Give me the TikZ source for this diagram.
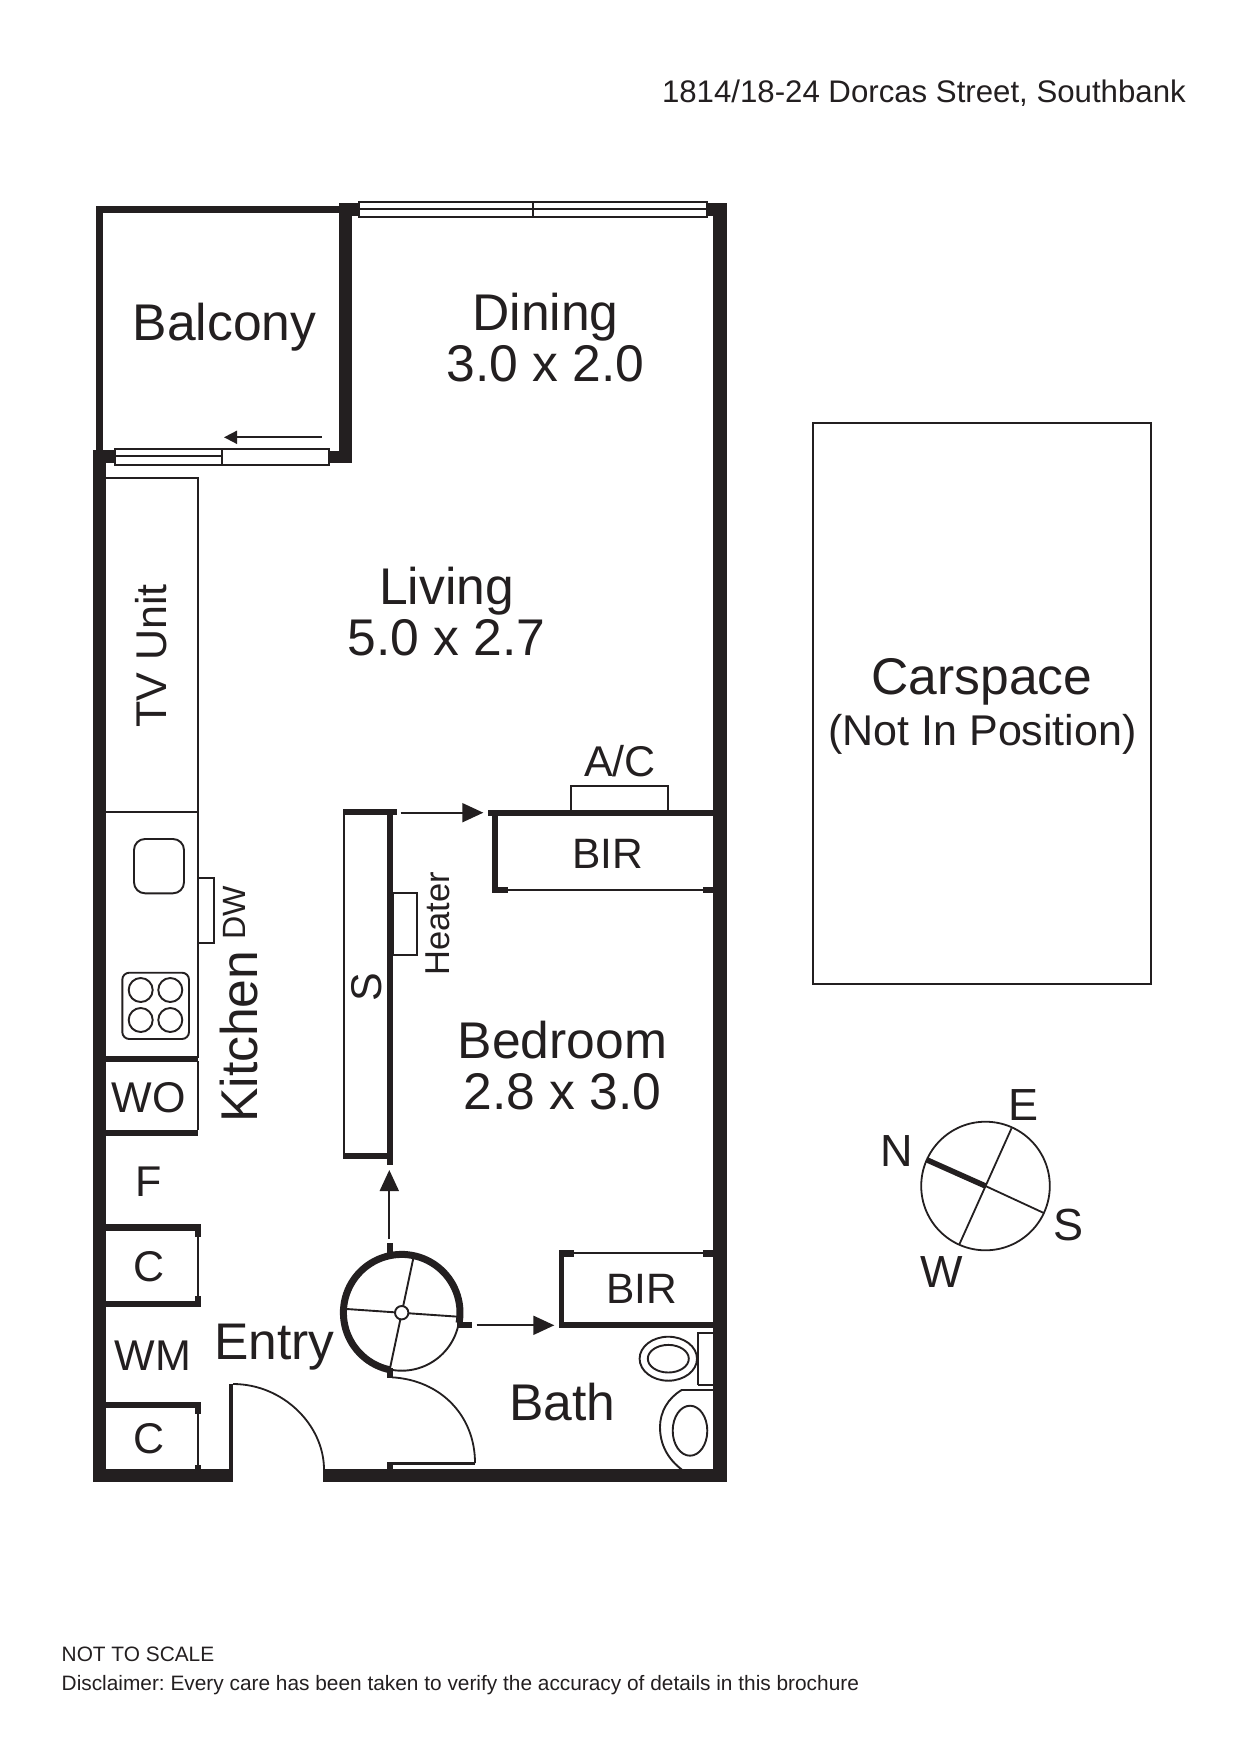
\documentclass[tikz,border=0pt]{standalone}
\usepackage{fontspec}
\setmainfont{Liberation Sans}
\usetikzlibrary{arrows.meta}
\definecolor{ink}{HTML}{231F20}
\newcommand{\fs}[1]{\fontsize{#1}{#1}\selectfont}
\tikzset{
  wall/.style={fill=ink,draw=none},
  thin line/.style={draw=ink,line width=1.9pt},
  fine/.style={draw=ink,line width=1.9pt},
  glass/.style={draw=ink,fill=white,line width=1.9pt},
  big/.style={anchor=base,inner sep=0pt,text=ink,font=\fs{51.6}},
  mid/.style={anchor=base,inner sep=0pt,text=ink,font=\fs{43}},
  small/.style={anchor=base west,inner sep=0pt,text=ink,font=\frenchspacing\fs{20.85}},
  move/.style={draw=ink,line width=1.9pt,-{Triangle[length=21pt,width=19pt]}},
}
\begin{document}
\begin{tikzpicture}[x=1pt,y=-1pt,line join=miter]
\path[use as bounding box,fill=white] (0,0) rectangle (1240,1752);

% balcony walls
\fill[wall] (96,206) rectangle (339,212.7);
\fill[wall] (96,206) rectangle (102.7,450);
\fill[wall] (338.7,203.3) rectangle (351.7,463.3);
\fill[wall] (338.7,203.3) rectangle (358.5,216);
\fill[wall] (328,450.7) rectangle (351.7,463.3);
% main shell
\fill[wall] (92.7,450) rectangle (106,1482.3);
\fill[wall] (92.7,450) rectangle (115,463);
\fill[wall] (713.3,203.3) rectangle (726.5,1482.3);
\fill[wall] (706,203.3) rectangle (726.5,216);
\fill[wall] (92.7,1469.3) rectangle (233.3,1482.3);
\fill[wall] (323.3,1469.3) rectangle (726.5,1482.3);
\fill[wall] (229.3,1384) rectangle (233.3,1470);

% windows
\draw[glass] (358.8,202.3) rectangle (706.7,216.7);
\draw[thin line] (358.8,209.4) -- (706.7,209.4);
\draw[thin line] (532.8,202.3) -- (532.8,216.7);
\draw[glass] (114.8,449) rectangle (328.7,465);
\draw[thin line] (114.8,456.3) -- (222,456.3);
\draw[thin line] (222,449) -- (222,465);
\draw[draw=ink,line width=1.7pt,-{Triangle[length=13pt,width=13pt]}] (321.7,437.3) -- (224,437.3);

% TV unit and kitchen bench
\draw[fine] (106,478.3) -- (197.8,478.3) -- (197.8,1058);
\draw[fine] (106,812.3) -- (197.8,812.3);
\draw[fine,rounded corners=11pt] (134,839) rectangle (184,893.3);
\draw[fine,rounded corners=7pt] (122.3,972.7) rectangle (189,1039);
\draw[fine] (140.7,990) circle[radius=12];
\draw[fine] (170.3,990) circle[radius=12];
\draw[fine] (140.7,1020) circle[radius=12];
\draw[fine] (170.3,1020) circle[radius=12];
\draw[fine] (198.3,877.7) rectangle (214.3,942.7);
\fill[wall] (106,1056) rectangle (198.3,1061.7);
\fill[wall] (106,1130) rectangle (198.3,1136);
\draw[fine] (197.8,1061) -- (197.8,1130);

% cupboards
\fill[wall] (106,1224.3) rectangle (201,1230.7);
\fill[wall] (195,1224.3) rectangle (201,1236.7);
\fill[wall] (106,1301) rectangle (201,1307);
\fill[wall] (195,1296) rectangle (201,1307);
\draw[thin line] (197.7,1236) -- (197.7,1296);
\fill[wall] (106,1402) rectangle (201,1408.3);
\fill[wall] (195,1402) rectangle (201,1414);
\fill[wall] (195,1464.7) rectangle (201,1470);
\draw[thin line] (197.7,1414) -- (197.7,1465);

% bedroom robe wall
\fill[wall] (343.3,809.3) rectangle (396.7,815.3);
\fill[wall] (386.7,809.3) rectangle (392.7,1165);
\fill[wall] (343.3,1153.3) rectangle (386.7,1159.3);
\draw[draw=ink,line width=2pt] (344.3,812) -- (344.3,1156);
\draw[fine] (393,892.8) rectangle (417.3,955);

% upper BIR
\fill[wall] (487.5,809.5) rectangle (713.3,816.3);
\fill[wall] (492,809.5) rectangle (498,893.3);
\fill[wall] (492,886.7) rectangle (508.3,893.3);
\fill[wall] (703.3,886.7) rectangle (713.3,893.3);
\draw[thin line] (508,890) -- (704,890);
\draw[thin line] (571,810) -- (571,785.7) -- (668.3,785.7) -- (668.3,810);

% lower BIR
\fill[wall] (559.3,1250) rectangle (564.3,1328.3);
\fill[wall] (559.3,1322.3) rectangle (713.3,1328.3);
\fill[wall] (559.3,1250) rectangle (574,1256.7);
\fill[wall] (703.3,1250) rectangle (713.3,1256.7);
\draw[thin line] (574,1253.3) -- (704,1253.3);

% stair door circle
\draw[draw=ink,line width=7pt] plot[domain=-10:258.5,samples=70] ({401.7+58.3*cos(\x)},{1312.7-58.3*sin(\x)});
\draw[draw=ink,line width=1.9pt] plot[domain=-101.5:-10,samples=30] ({401.7+58*cos(\x)},{1312.7-58*sin(\x)});
\draw[fine] (413.3,1258.3) -- (390,1368.3);
\draw[fine] (346.7,1309) -- (458.3,1316.7);
\draw[fine,fill=white] (401.7,1312.7) circle[radius=6.7];
\fill[wall] (386.7,1242.7) rectangle (392.7,1253);
\fill[wall] (457.3,1322.3) rectangle (471.7,1328.3);
\fill[wall] (386.7,1368) rectangle (392.7,1378);

% doors
\draw[draw=ink,line width=1.8pt] (233,1384) .. controls (283,1384) and (324,1425) .. (324,1469.5);
\draw[draw=ink,line width=1.8pt] (392,1377.3) .. controls (440,1380) and (475,1415) .. (475,1463);
\fill[wall] (386.7,1461.7) rectangle (392.7,1470);
\fill[wall] (386.7,1461.7) rectangle (475,1465);

% bathroom fittings
\draw[fine] (698.3,1385) -- (698.3,1332.7) -- (713.3,1332.7);
\draw[fine] (698.3,1385) -- (713.3,1385);
\draw[fine] (668.3,1358.7) ellipse[x radius=28.7,y radius=22];
\draw[fine] (668.3,1358.7) ellipse[x radius=20.5,y radius=13.8];
\draw[fine] (713.3,1390) -- (681.7,1390) .. controls (668,1398) and (660,1412) .. (660,1427) .. controls (660,1445) and (668,1459) .. (681.7,1469.5);
\draw[fine] (690,1430.7) ellipse[x radius=17.3,y radius=25];

% movement arrows
\draw[move] (400.7,812.7) -- (483.3,812.7);
\draw[move] (389.3,1239) -- (389.3,1170);
\draw[move] (476.7,1325.3) -- (554.3,1325.3);

% carspace
\draw[draw=ink,line width=2pt] (812.6,423.4) rectangle (1150.6,984);

% compass
\draw[draw=ink,line width=1.8pt] (985.5,1186) circle[radius=64.3];
\draw[draw=ink,line width=1.8pt] (985.5,1186) -- (1043.2,1212.7);
\draw[draw=ink,line width=1.8pt] (1011.5,1128.3) -- (959.5,1244);
\draw[draw=ink,line width=5.5pt] (985.5,1186) -- (927.2,1160);

% labels
\node[anchor=base east,inner sep=0pt,text=ink,font=\fs{31.2}] (address) at (1186,103) {1814/18-24 Dorcas Street, Southbank};
\node[big] (balcony) at (224.5,340.7) {Balcony};
\node[big] (dining) at (545.5,330.3) {Dining};
\node[big] (diningsize) at (545.5,381) {3.0 x 2.0};
\node[big] (living) at (446.5,604.6) {Living};
\node[big] (livingsize) at (446.5,655) {5.0 x 2.7};
\node[big] (carspace) at (982,694) {Carspace};
\node[mid,font=\fs{43}] (position) at (982.5,745) {(Not In Position)};
\node[big] (bedroom) at (562.5,1058) {Bedroom};
\node[big] (bedroomsize) at (562.5,1109) {2.8 x 3.0};
\node[big] (bath) at (562.5,1420) {Bath};
\node[big,font=\fs{51.5}] (entry) at (274.5,1359) {Entry};
\node[mid] (acl) at (620,776.7) {A/C};
\node[mid,font=\fs{42.5}] (bir1) at (607.7,868.3) {BIR};
\node[mid,font=\fs{42.5}] (bir2) at (642,1303.3) {BIR};
\node[mid] (wo) at (148.5,1112) {WO};
\node[mid] (fridge) at (149,1196.7) {F};
\node[mid] (c1) at (149,1281.7) {C};
\node[mid] (wm) at (153,1370.7) {WM};
\node[mid] (c2) at (149,1453.3) {C};
\node[mid,font=\fs{43},rotate=90] (tv) at (166,656) {TV Unit};
\node[big,font=\fs{51.7},rotate=90] (kitchen) at (257,1036.7) {Kitchen};
\node[mid,font=\fs{32.2},rotate=90] (dw) at (245.7,913) {DW};
\node[mid,rotate=90] (s) at (381,987.5) {S};
\node[mid,font=\fs{34.5},rotate=90] (heater) at (449,924) {Heater};
\node[mid,font=\fs{45}] (north) at (897,1166.7) {N};
\node[mid,font=\fs{45}] (east) at (1023.5,1120) {E};
\node[mid,font=\fs{45}] (south) at (1068.2,1240) {S};
\node[mid,font=\fs{45}] (west) at (942.2,1287.7) {W};
\node[small] (scale) at (61.5,1661) {NOT TO SCALE};
\node[small] (disclaimer) at (61.5,1690) {Disclaimer: Every care has been taken to verify the accuracy of details in this brochure};
\end{tikzpicture}
\end{document}
